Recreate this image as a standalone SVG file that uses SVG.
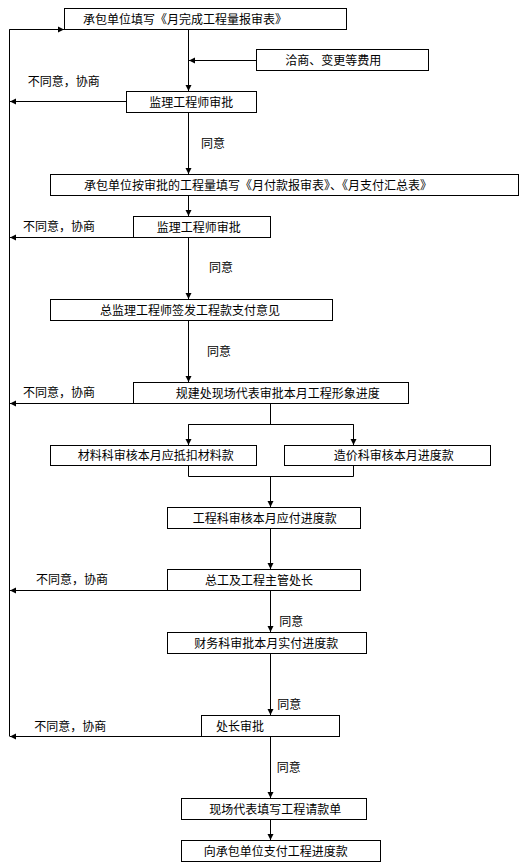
<svg xmlns="http://www.w3.org/2000/svg" width="532" height="867" viewBox="0 0 532 867">
<style>
rect.n{fill:#fff;stroke:#000;stroke-width:1}
text{font-family:"Noto Sans CJK SC","Noto Sans CJK JP",sans-serif;font-size:12px;fill:#000}
.c line,.c polyline{stroke:#000;stroke-width:1;fill:none}
</style>
<defs>
<marker id="ah" markerUnits="userSpaceOnUse" markerWidth="7" markerHeight="7" refX="6" refY="3.5" orient="auto">
<path d="M0,0.5 L6,3.5 L0,6.5 z" fill="#000"/>
</marker>
</defs>
<rect width="532" height="867" fill="#fff"/>
<g class="c" id="connectors">
<line x1="188.5" y1="29.5" x2="188.5" y2="91" marker-end="url(#ah)"/>
<line x1="256.5" y1="60.5" x2="189" y2="60.5" marker-end="url(#ah)"/>
<line x1="188.5" y1="112.5" x2="188.5" y2="174" marker-end="url(#ah)"/>
<line x1="188.5" y1="195.5" x2="188.5" y2="216" marker-end="url(#ah)"/>
<line x1="188.5" y1="237.5" x2="188.5" y2="299" marker-end="url(#ah)"/>
<line x1="188.5" y1="320.5" x2="188.5" y2="382" marker-end="url(#ah)"/>
<polyline points="270.5,403.5 270.5,424.5"/>
<polyline points="188.5,445 188.5,424.5 353.5,424.5 353.5,445"/>
<line x1="188.5" y1="424.5" x2="188.5" y2="445" marker-end="url(#ah)"/>
<line x1="353.5" y1="424.5" x2="353.5" y2="445" marker-end="url(#ah)"/>
<polyline points="188.5,465.5 188.5,476.5 353.5,476.5 353.5,465.5"/>
<line x1="270.5" y1="476.5" x2="270.5" y2="507" marker-end="url(#ah)"/>
<line x1="270.5" y1="528.5" x2="270.5" y2="569" marker-end="url(#ah)"/>
<line x1="270.5" y1="590.5" x2="270.5" y2="632" marker-end="url(#ah)"/>
<line x1="270.5" y1="653.5" x2="270.5" y2="715" marker-end="url(#ah)"/>
<line x1="270.5" y1="736.5" x2="270.5" y2="798" marker-end="url(#ah)"/>
<line x1="270.5" y1="819.5" x2="270.5" y2="840" marker-end="url(#ah)"/>
<line x1="126.5" y1="101.5" x2="10" y2="101.5" marker-end="url(#ah)"/>
<line x1="133.5" y1="237.5" x2="10" y2="237.5" marker-end="url(#ah)"/>
<line x1="133.5" y1="403.5" x2="10" y2="403.5" marker-end="url(#ah)"/>
<line x1="167.5" y1="590.5" x2="10" y2="590.5" marker-end="url(#ah)"/>
<line x1="201.5" y1="736.5" x2="10" y2="736.5" marker-end="url(#ah)"/>
<polyline points="9.5,736.5 9.5,29.5 64,29.5"/>
<line x1="9.5" y1="29.5" x2="64" y2="29.5" marker-end="url(#ah)"/>
</g>
<g id="labels">
<text x="27.7" y="85.5">不同意，协商</text>
<text x="23" y="231">不同意，协商</text>
<text x="23" y="397">不同意，协商</text>
<text x="36" y="584">不同意，协商</text>
<text x="34.3" y="730.5">不同意，协商</text>
<text x="201" y="148">同意</text>
<text x="209" y="272">同意</text>
<text x="207" y="355.5">同意</text>
<text x="279.3" y="626">同意</text>
<text x="277.3" y="709">同意</text>
<text x="276.7" y="772">同意</text>
</g>
<g id="n1"><rect class="n" x="64.5" y="8.5" width="282" height="21"/><text x="83" y="23.5">承包单位填写《月完成工程量报审表》</text></g>
<g id="n_qs"><rect class="n" x="256.5" y="49.5" width="172" height="21"/><text x="285.3" y="64.5">洽商、变更等费用</text></g>
<g id="n2"><rect class="n" x="126.5" y="91.5" width="130" height="21"/><text x="149.3" y="106.5">监理工程师审批</text></g>
<g id="n3"><rect class="n" x="50.5" y="174.5" width="468" height="21"/><text x="84" y="189.5">承包单位按审批的工程量填写《月付款报审表》、《月支付汇总表》</text></g>
<g id="n4"><rect class="n" x="133.5" y="216.5" width="137" height="21"/><text x="156.7" y="231.5">监理工程师审批</text></g>
<g id="n5"><rect class="n" x="50.5" y="299.5" width="282" height="21"/><text x="100" y="314.5">总监理工程师签发工程款支付意见</text></g>
<g id="n6"><rect class="n" x="133.5" y="382.5" width="275" height="21"/><text x="175.7" y="397.5">规建处现场代表审批本月工程形象进度</text></g>
<g id="n7"><rect class="n" x="50.5" y="445.5" width="206" height="20"/><text x="77.7" y="460">材料科审核本月应抵扣材料款</text></g>
<g id="n8"><rect class="n" x="284.5" y="445.5" width="206" height="20"/><text x="333.7" y="460">造价科审核本月进度款</text></g>
<g id="n9"><rect class="n" x="167.5" y="507.5" width="193" height="21"/><text x="192.7" y="522.5">工程科审核本月应付进度款</text></g>
<g id="n10"><rect class="n" x="167.5" y="569.5" width="193" height="21"/><text x="205" y="584.5">总工及工程主管处长</text></g>
<g id="n11"><rect class="n" x="167.5" y="632.5" width="199" height="21"/><text x="194.3" y="647.5">财务科审批本月实付进度款</text></g>
<g id="n12"><rect class="n" x="201.5" y="715.5" width="138" height="21"/><text x="216" y="730.5">处长审批</text></g>
<g id="n13"><rect class="n" x="181.5" y="798.5" width="185" height="21"/><text x="209.3" y="813.5">现场代表填写工程请款单</text></g>
<g id="n14"><rect class="n" x="181.5" y="840.5" width="199" height="21"/><text x="203.7" y="855.5">向承包单位支付工程进度款</text></g>
</svg>
